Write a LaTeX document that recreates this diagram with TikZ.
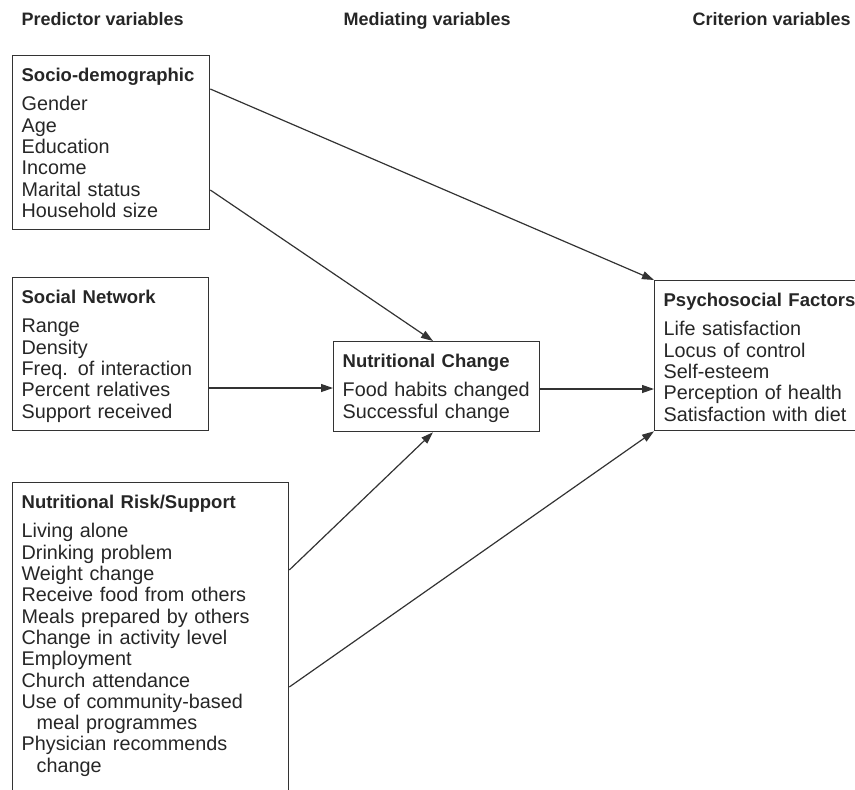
\documentclass[tikz,border=0pt]{standalone}
\usepackage{fontspec}
\setmainfont{Liberation Sans}
\usetikzlibrary{arrows.meta,positioning}

\begin{document}
\begin{tikzpicture}[x=1pt, y=-1pt, line width=1.3pt, draw=black!80,
    varbox/.style={draw, anchor=north west, inner xsep=9pt, inner ysep=11pt,
        text height=15pt, align=left, text=black!85,
        font=\fontsize{19.8}{21.3}\selectfont},
    colhead/.style={anchor=base west, inner sep=0pt, text=black!85,
        font=\fontsize{18}{21}\selectfont\bfseries},
    link/.style={-{Triangle[length=12pt,width=8pt]}, line width=1.2pt}]

    \useasboundingbox (0,0) rectangle (855,790);
    \clip (0,0) rectangle (855,790);

    % Column headings
    \node[colhead] (hpred) at (21,25) {Predictor variables};
    \node[colhead] (hmed) at (343,25) {Mediating variables};
    \node[colhead] (hcrit) at (692,25) {Criterion variables};

    % Predictor boxes
    \node[varbox, text width=179pt, text depth=137pt] (socio) at (12,55)
        {{\fontsize{18.5}{21.3}\selectfont\bfseries Socio-demographic}\\[8pt]
         Gender\\ Age\\ Education\\ Income\\ Marital status\\ Household size};
    \node[varbox, text width=178pt, text depth=116pt] (social) at (12,277)
        {{\fontsize{18.5}{21.3}\selectfont\bfseries Social Network}\\[8pt]
         Range\\ Density\\ Freq. of interaction\\ Percent relatives\\ Support received};
    \node[varbox, text width=258pt, text depth=293pt] (risk) at (12,482)
        {{\fontsize{18.5}{21.3}\selectfont\bfseries Nutritional Risk/Support}\\[8pt]
         Living alone\\ Drinking problem\\ Weight change\\ Receive food from others\\
         Meals prepared by others\\ Change in activity level\\ Employment\\
         Church attendance\\ Use of community-based\\ \hspace*{15pt}meal programmes\\
         Physician recommends\\ \hspace*{15pt}change};

    % Mediating box
    \node[varbox, text width=188pt, text depth=53pt] (nutri) at (333,341)
        {{\fontsize{18.5}{21.3}\selectfont\bfseries Nutritional Change}\\[8pt]
         Food habits changed\\ Successful change};

    % Criterion box
    \node[varbox, text width=212pt, text depth=113pt] (psych) at (654,280)
        {{\fontsize{18.5}{21.3}\selectfont\bfseries Psychosocial Factors}\\[8pt]
         Life satisfaction\\ Locus of control\\ Self-esteem\\
         Perception of health\\ Satisfaction with diet};

    % Paths
    \draw[link] ([yshift=-34pt]socio.north east) -- (psych.north west);
    \draw[link] ([yshift=-135pt]socio.north east) -- ([xshift=100pt]nutri.north west);
    \draw[link] ([yshift=-111pt]social.north east) -- ([yshift=-47pt]nutri.north west);
    \draw[link] ([yshift=-88pt]risk.north east) -- ([xshift=100pt]nutri.south west);
    \draw[link] ([yshift=-48pt]nutri.north east) -- ([yshift=-109pt]psych.north west);
    \draw[link] ([yshift=-205pt]risk.north east) -- (psych.south west);

\end{tikzpicture}
\end{document}
